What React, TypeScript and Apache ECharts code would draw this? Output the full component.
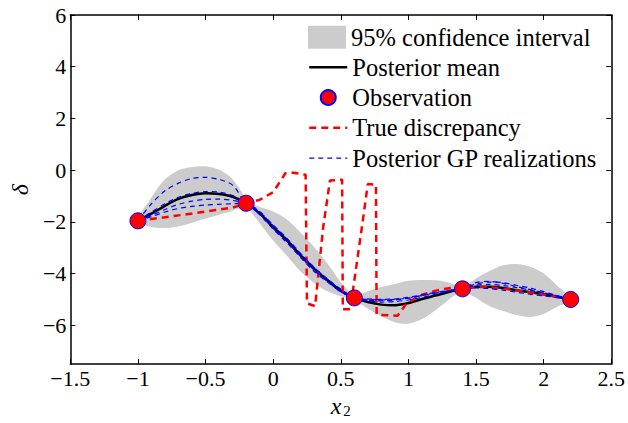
import React, { useEffect, useRef } from "react";
import * as echarts from "echarts";

// ---- data ----
const xGrid = [-1, -0.9, -0.8, -0.7, -0.6, -0.5, -0.4, -0.3, -0.2, -0.1, 0, 0.1, 0.2, 0.3, 0.4, 0.5, 0.6, 0.7, 0.8, 0.9, 1, 1.1, 1.2, 1.3, 1.4, 1.5, 1.6, 1.7, 1.8, 1.9, 2, 2.1, 2.2];
const meanVals = [-1.96, -1.68, -1.38, -1.11, -0.96, -0.89, -0.92, -1.03, -1.28, -1.67, -2.2, -2.71, -3.28, -3.8, -4.25, -4.66, -4.94, -5.1, -5.2, -5.22, -5.14, -4.98, -4.85, -4.71, -4.59, -4.51, -4.51, -4.56, -4.64, -4.72, -4.8, -4.9, -5.0];
const upperVals = [-1.96, -1.05, -0.35, 0.0, 0.12, 0.15, 0.02, -0.35, -1.28, -1.42, -1.6, -1.9, -2.4, -2.95, -3.6, -4.33, -4.94, -4.68, -4.52, -4.4, -4.28, -4.25, -4.26, -4.35, -4.59, -4.19, -3.9, -3.68, -3.63, -3.74, -4.0, -4.47, -5.0];
const lowerVals = [-1.96, -2.2, -2.24, -2.18, -2.03, -1.87, -1.72, -1.57, -1.28, -2.05, -2.72, -3.3, -3.9, -4.35, -4.68, -4.87, -4.94, -5.35, -5.65, -5.88, -5.94, -5.76, -5.42, -5.0, -4.59, -4.94, -5.25, -5.45, -5.6, -5.68, -5.56, -5.28, -5.0];
const real1 = [-1.96, -1.3, -0.8, -0.5, -0.32, -0.28, -0.36, -0.58, -1.28, -1.62, -2.12, -2.62, -3.2, -3.75, -4.22, -4.63, -4.94, -5.0, -5.02, -5.0, -4.95, -4.85, -4.75, -4.66, -4.59, -4.4, -4.33, -4.35, -4.45, -4.56, -4.7, -4.85, -5.0];
const real2 = [-1.96, -1.62, -1.3, -1.05, -0.9, -0.83, -0.85, -0.98, -1.28, -1.7, -2.25, -2.75, -3.32, -3.85, -4.3, -4.7, -4.94, -5.05, -5.1, -5.08, -5.02, -4.92, -4.8, -4.68, -4.59, -4.45, -4.42, -4.46, -4.54, -4.64, -4.75, -4.88, -5.0];
const real3 = [-1.96, -1.75, -1.52, -1.32, -1.2, -1.13, -1.12, -1.17, -1.28, -1.72, -2.28, -2.8, -3.36, -3.9, -4.32, -4.7, -4.94, -4.98, -5.0, -4.98, -4.92, -4.82, -4.73, -4.65, -4.59, -4.55, -4.58, -4.64, -4.72, -4.8, -4.86, -4.93, -5.0];
const real4 = [-1.96, -1.8, -1.62, -1.48, -1.4, -1.35, -1.32, -1.3, -1.28, -1.6, -2.15, -2.65, -3.22, -3.75, -4.2, -4.6, -4.94, -5.02, -5.05, -5.02, -4.95, -4.85, -4.75, -4.66, -4.59, -4.35, -4.3, -4.38, -4.5, -4.62, -4.74, -4.86, -5.0];
const trueX = [-1, -0.8, -0.6, -0.4, -0.3, -0.2, -0.1, 0, 0.05, 0.09, 0.15, 0.24, 0.25, 0.31, 0.37, 0.42, 0.51, 0.515, 0.57, 0.65, 0.7, 0.76, 0.765, 0.8, 0.92, 0.99, 1.1, 1.225, 1.35, 1.4, 1.5, 1.6, 1.7, 1.8, 1.9, 2, 2.1, 2.2];
const trueY = [-1.96, -1.82, -1.68, -1.52, -1.45, -1.28, -1.15, -0.85, -0.45, -0.12, -0.1, -0.18, -5.15, -5.26, -2.2, -0.4, -0.37, -5.38, -5.38, -2.43, -0.54, -0.56, -5.57, -5.6, -5.63, -5.13, -4.82, -4.63, -4.53, -4.59, -4.52, -4.53, -4.58, -4.65, -4.73, -4.81, -4.9, -5.0];
const obsX = [-1, -0.2, 0.6, 1.4, 2.2];
const obsY = [-1.96, -1.28, -4.94, -4.59, -5.0];
const yTickValues = [-6, -4, -2, 0, 2, 4, 6];

const FONT = "'Liberation Serif', 'Times New Roman', serif";
const zip = (xs: number[], ys: number[]) => xs.map((x, i) => [x, ys[i]]);
const minus = (v: number) => String(v).replace("-", "\u2212");

export default function App() {
  const ref = useRef<HTMLDivElement>(null);
  useEffect(() => {
    if (!ref.current) return;
    const chart = echarts.init(ref.current, null, { renderer: "svg" });
    const axisLine = { show: true, onZero: false, lineStyle: { color: "#000", width: 1.5 } };
    const tick = { show: true, inside: true, length: 5, lineStyle: { color: "#000", width: 1 } };
    const realStyle = { color: "#0000ff", width: 1.2, type: [5, 4] as any };
    const realSeries = [real1, real2, real3, real4].map((r) => ({
      name: "Posterior GP realizations",
      type: "line",
      data: zip(xGrid, r),
      symbol: "none",
      smooth: 0.3,
      color: "#0000ff",
      lineStyle: realStyle,
    }));
    // band segments between consecutive observations
    const segData = obsX.slice(0, -1).map((x, i) => [x, obsX[i + 1]]);
    const bandRender = (params: any, api: any) => {
      const [a, b] = segData[params.dataIndex];
      const idx = xGrid.map((x, i) => i).filter((i) => xGrid[i] >= a - 1e-9 && xGrid[i] <= b + 1e-9);
      const up = idx.map((i) => api.coord([xGrid[i], upperVals[i]]));
      const lo = idx.slice(1, -1).reverse().map((i) => api.coord([xGrid[i], lowerVals[i]]));
      return {
        type: "polygon",
        shape: { points: up.concat(lo), smooth: 0.3 },
        style: { fill: "#cccccc", stroke: "none" },
        silent: true,
      };
    };
    chart.setOption({
      animation: false,
      grid: { left: 65, right: 15, top: 15, bottom: 49, containLabel: false },
      legend: [
        {
          data: [{ name: "95% confidence interval", icon: "rect", itemStyle: { color: "#cccccc", opacity: 1, borderWidth: 0 } }],
          orient: "vertical",
          left: 308,
          top: 24.7,
          padding: 0,
          itemWidth: 38,
          itemHeight: 23,
          selectedMode: false,
          textStyle: { fontFamily: FONT, fontSize: 24.5, color: "#000", lineHeight: 24 },
        },
        {
          data: [
            { name: "Posterior mean", itemStyle: { opacity: 0 } },
            { name: "Observation", icon: "circle" },
            { name: "True discrepancy", itemStyle: { opacity: 0 } },
            { name: "Posterior GP realizations", itemStyle: { opacity: 0 } },
          ],
          orient: "vertical",
          left: 308,
          top: 54.7,
          padding: 0,
          itemWidth: 38,
          itemHeight: 15,
          itemGap: 5.3,
          selectedMode: false,
          lineStyle: { width: "inherit" },
          textStyle: { fontFamily: FONT, fontSize: 24.5, color: "#000", lineHeight: 24 },
        },
      ],
      xAxis: [
        {
          type: "value",
          min: -1.5,
          max: 2.5,
          interval: 0.5,
          position: "bottom",
          axisLine,
          axisTick: tick,
          splitLine: { show: false },
          axisLabel: { fontFamily: FONT, fontSize: 22, color: "#000", margin: 3, formatter: minus },
          name: "{a|x}{b|2}",
          nameLocation: "middle",
          nameGap: 21,
          nameTextStyle: {
            rich: {
              a: { fontFamily: FONT, fontStyle: "italic", fontSize: 24, color: "#000", lineHeight: 24, verticalAlign: "bottom" },
              b: { fontFamily: FONT, fontSize: 15, color: "#000", lineHeight: 10, verticalAlign: "bottom", padding: [0, 0, 0, 2] },
            },
          },
        },
        {
          type: "value",
          min: -1.5,
          max: 2.5,
          interval: 0.5,
          position: "top",
          axisLine,
          axisTick: tick,
          splitLine: { show: false },
          axisLabel: { show: false },
        },
      ],
      yAxis: [
        {
          type: "value",
          min: -7.5,
          max: 6,
          position: "left",
          axisLine,
          axisTick: { ...tick, customValues: yTickValues },
          splitLine: { show: false },
          axisLabel: { fontFamily: FONT, fontSize: 22, color: "#000", margin: 4, formatter: minus, customValues: yTickValues },
          name: "\u03b4",
          nameLocation: "middle",
          nameGap: 36,
          nameRotate: 90,
          nameTextStyle: { fontFamily: FONT, fontStyle: "italic", fontSize: 24, color: "#000" },
        },
        {
          type: "value",
          min: -7.5,
          max: 6,
          position: "right",
          axisLine,
          axisTick: { ...tick, customValues: yTickValues },
          splitLine: { show: false },
          axisLabel: { show: false },
        },
      ],
      series: [
        {
          name: "95% confidence interval",
          type: "custom",
          data: segData,
          renderItem: bandRender,
          color: "#cccccc",
          itemStyle: { color: "#cccccc" },
          silent: true,
          z: 1,
        },
        {
          name: "Posterior mean",
          type: "line",
          data: zip(xGrid, meanVals),
          symbol: "none",
          smooth: 0.3,
          color: "#000",
          lineStyle: { color: "#000", width: 2.5 },
        },
        {
          name: "True discrepancy",
          type: "line",
          data: zip(trueX, trueY),
          symbol: "none",
          color: "#ff0000",
          lineStyle: { color: "#ff0000", width: 2.5, type: [7, 5] },
        },
        ...realSeries,
        {
          name: "Observation",
          type: "scatter",
          data: zip(obsX, obsY),
          symbol: "circle",
          symbolSize: 16,
          itemStyle: { color: "#ff0000", borderColor: "#0000ff", borderWidth: 1, opacity: 1 },
          z: 5,
        },
      ],
    });
    return () => chart.dispose();
  }, []);
  return <div ref={ref} style={{ position: "fixed", left: 0, top: 0, width: 628, height: 423, background: "#fff" }} />;
}
